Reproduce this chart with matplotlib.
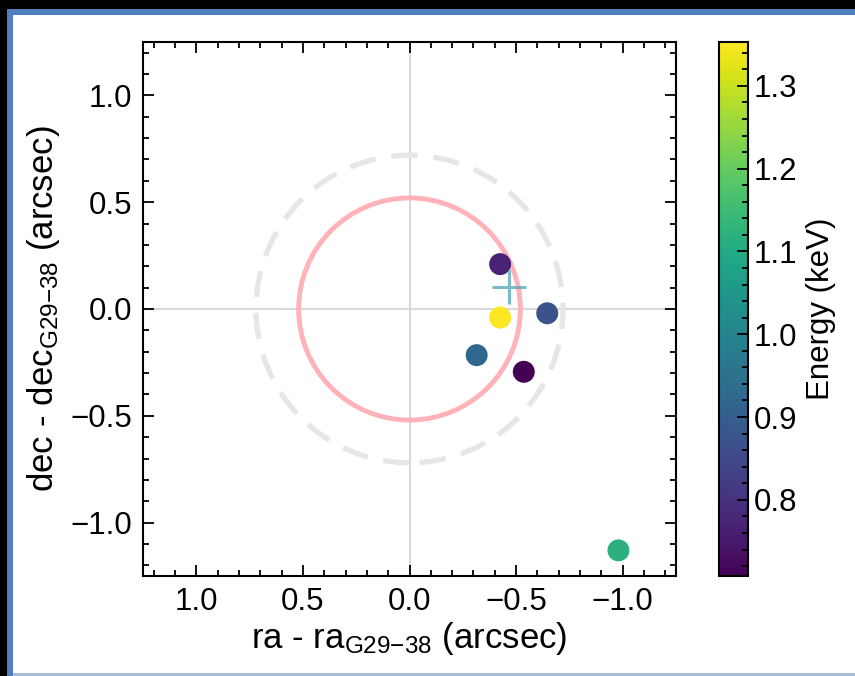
import numpy as np
import matplotlib
matplotlib.use("Agg")
import matplotlib.pyplot as plt
from matplotlib.patches import Circle, Rectangle
from matplotlib.ticker import MultipleLocator

plt.rcParams['font.family'] = ['Liberation Sans', 'DejaVu Sans']
plt.rcParams['mathtext.fontset'] = 'custom'
plt.rcParams['mathtext.rm'] = 'Liberation Sans'
plt.rcParams['mathtext.it'] = 'Liberation Sans'

# Photon offsets from G29-38 (arcsec) and their energies (keV)
ra_off = [-0.425, -0.425, -0.646, -0.315, -0.536, -0.98]
dec_off = [0.21, -0.04, -0.02, -0.216, -0.294, -1.13]
energy = [0.77, 1.35, 0.87, 0.92, 0.71, 1.12]

# Centroid of the X-ray position
centroid_ra = -0.466
centroid_dec = 0.103

# Error circles (arcsec)
r_inner = 0.52
r_outer = 0.72

e_min, e_max = 0.708, 1.353

W, H, DPI = 855, 676, 100
fig = plt.figure(figsize=(W / DPI, H / DPI), dpi=DPI)
fig.patch.set_facecolor('white')

# Window-style border around the figure
def px_rect(x0, y0, x1, y1, color):
    fig.patches.append(Rectangle((x0 / W, 1 - y1 / H), (x1 - x0) / W, (y1 - y0) / H,
                                 transform=fig.transFigure, facecolor=color,
                                 edgecolor='none', zorder=-10))

px_rect(0, 0, W, 9, 'black')
px_rect(0, 0, 7, H, 'black')
px_rect(7, 9, W, 15, '#4f7fbf')
px_rect(7, 9, 13, H, '#4f7fbf')
px_rect(13, 673, W, 676, '#a9bdd9')

ax = fig.add_axes([143 / W, 1 - 576 / H, 533 / W, 534 / H])
cax = fig.add_axes([719 / W, 1 - 576 / H, 29 / W, 534 / H])

ax.axhline(0, color='#d9d9d9', lw=1.5, zorder=0)
ax.axvline(0, color='#d9d9d9', lw=1.5, zorder=0)

ax.add_patch(Circle((0, 0), r_outer, fill=False, ec='#e6e6e6', lw=3.8,
                    ls=(0, (5, 3)), zorder=1))
ax.add_patch(Circle((0, 0), r_inner, fill=False, ec='#ffb3b8', lw=3.5, zorder=2))

sc = ax.scatter(ra_off, dec_off, c=energy, cmap='viridis', vmin=e_min, vmax=e_max,
                s=250, edgecolors='none', zorder=3)
ax.plot([centroid_ra], [centroid_dec], marker='+', ms=25, mew=2.2,
        color='#4fa3b8', alpha=0.75, ls='none', zorder=4)

ax.set_xlim(1.25, -1.25)
ax.set_ylim(-1.25, 1.25)
ax.xaxis.set_major_locator(MultipleLocator(0.5))
ax.yaxis.set_major_locator(MultipleLocator(0.5))
ax.xaxis.set_minor_locator(MultipleLocator(0.1))
ax.yaxis.set_minor_locator(MultipleLocator(0.1))
ax.tick_params(which='both', direction='in', top=True, right=True, labelsize=22.5,
               width=1.3, color='black', pad=8)
ax.tick_params(which='major', length=8)
ax.tick_params(which='minor', length=4)
for s in ax.spines.values():
    s.set_linewidth(1.5)

ax.set_xlabel(r'ra - ra$_{\mathrm{G29{-}38}}$ (arcsec)', fontsize=25, labelpad=2)
ax.set_ylabel(r'dec - dec$_{\mathrm{G29{-}38}}$ (arcsec)', fontsize=25, labelpad=6)

cb = fig.colorbar(sc, cax=cax)
cb.set_label('Energy (keV)', fontsize=22.5, labelpad=6)
cb.ax.yaxis.set_major_locator(MultipleLocator(0.1))
cb.ax.yaxis.set_minor_locator(MultipleLocator(0.02))
cb.ax.tick_params(which='both', direction='in', labelsize=22.5, width=1.3, pad=4)
cb.ax.tick_params(which='major', length=8)
cb.ax.tick_params(which='minor', length=4)
cb.outline.set_linewidth(1.5)

fig.savefig('out.png', dpi=DPI)
